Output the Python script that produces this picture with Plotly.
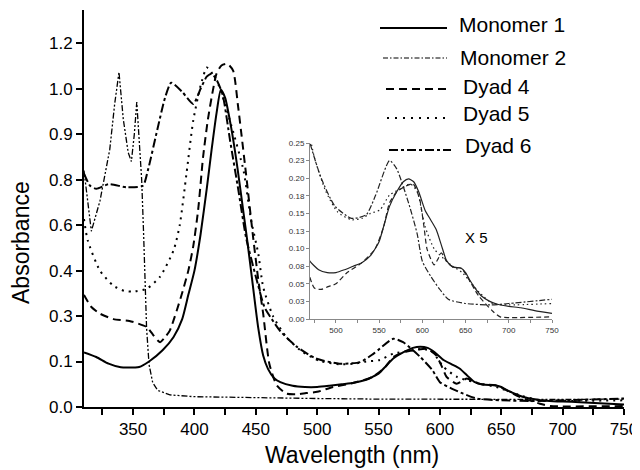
import plotly.graph_objects as go

# ---- data (wavelength nm / absorbance) ----
m1_wl = [310, 320, 330, 340, 345, 355, 363, 374, 383, 390, 395, 400, 405, 410, 414, 418, 421.5,
         425, 430, 435, 440, 443, 447, 452, 456, 460, 465, 470, 480, 490, 500, 510, 520, 530,
         540, 545, 550, 556, 562, 570, 578, 584, 590, 596, 603, 610, 616, 622, 628, 635, 645,
         650, 655, 662, 668, 678, 687, 700, 714, 730, 750]
m1_abs = [0.18, 0.165, 0.143, 0.131, 0.130, 0.132, 0.15, 0.187, 0.231, 0.29, 0.37, 0.45, 0.57,
          0.72, 0.85, 0.97, 1.047, 1.02, 0.92, 0.79, 0.64, 0.55, 0.42, 0.26, 0.17, 0.125, 0.095,
          0.082, 0.07, 0.066, 0.066, 0.07, 0.075, 0.08, 0.09, 0.099, 0.11, 0.135, 0.16, 0.18,
          0.195, 0.199, 0.195, 0.18, 0.155, 0.14, 0.127, 0.105, 0.083, 0.074, 0.072, 0.066,
          0.055, 0.042, 0.033, 0.025, 0.021, 0.018, 0.016, 0.012, 0.008]

m2_wl = [310, 316, 323, 331, 335, 338.5, 342, 346, 348.6, 351, 353, 355, 357, 358.5, 361, 363,
         366, 370, 380, 400, 450, 500, 550, 600, 650, 700, 750]
m2_abs = [0.78, 0.58, 0.68, 0.85, 1.0, 1.105, 0.95, 0.84, 0.81, 0.90, 1.006, 0.88, 0.75, 0.58,
          0.26, 0.14, 0.08, 0.055, 0.04, 0.034, 0.03, 0.028, 0.026, 0.025, 0.025, 0.025, 0.026]

d4_wl = [310, 316, 323, 334, 347, 361, 366, 370, 372, 376, 380, 389, 395, 399, 403, 407, 411,
         415, 418, 422, 427, 431.5, 435.6, 442, 447.8, 452, 456, 461, 467, 475, 483, 491, 500,
         513, 529, 545, 555, 562, 570, 578, 589, 592, 597, 602, 605.5, 613.6, 618, 622, 628,
         635, 645, 652, 665, 681.5, 690, 700, 750]
d4_abs = [0.37, 0.33, 0.308, 0.29, 0.284, 0.264, 0.24, 0.22, 0.214, 0.23, 0.253, 0.363, 0.45,
          0.53, 0.65, 0.824, 0.95, 1.044, 1.1, 1.127, 1.132, 1.11, 0.99, 0.77, 0.56, 0.42, 0.308,
          0.143, 0.072, 0.044, 0.042, 0.046, 0.05, 0.066, 0.079, 0.099, 0.13, 0.165, 0.18, 0.187,
          0.192, 0.187, 0.17, 0.13, 0.099, 0.077, 0.085, 0.094, 0.082, 0.074, 0.072, 0.06,
          0.033, 0.011, 0.003, 0.002, 0.003]

d5_wl = [310, 313, 323, 334, 343, 350, 361, 372, 383, 388, 393.5, 399, 405, 410, 413, 417, 420,
         430, 440, 446, 452, 456, 464, 475, 488, 502, 518, 530, 540, 551, 562, 578, 586, 594,
         603, 614, 633, 646, 665, 681, 700, 750]
d5_abs = [0.62, 0.55, 0.45, 0.40, 0.383, 0.381, 0.39, 0.43, 0.517, 0.60, 0.77, 0.945, 1.06,
          1.12, 1.11, 1.08, 1.06, 0.93, 0.78, 0.62, 0.506, 0.396, 0.30, 0.23, 0.182, 0.152,
          0.141, 0.143, 0.15, 0.155, 0.176, 0.187, 0.192, 0.181, 0.132, 0.099, 0.077, 0.066,
          0.039, 0.022, 0.02, 0.022]

d6_wl = [310, 315, 320, 330, 345, 358, 362, 370, 376, 381, 390, 399, 405, 410, 414, 418, 423,
         429, 436, 442, 452, 457, 463, 470, 483, 499, 518, 535, 546, 562, 570, 584, 594, 600,
         610, 619, 630, 650, 680, 700, 750]
d6_abs = [0.77, 0.73, 0.72, 0.735, 0.725, 0.73, 0.78, 0.92, 1.02, 1.07, 1.04, 1.0, 1.05, 1.09,
          1.1, 1.08, 1.03, 0.88, 0.71, 0.56, 0.40, 0.33, 0.29, 0.25, 0.2, 0.16, 0.143, 0.148,
          0.176, 0.225, 0.214, 0.165, 0.121, 0.082, 0.06, 0.044, 0.028, 0.022, 0.02, 0.022, 0.028]

names = ["Monomer 1", "Monomer 2", "Dyad 4", "Dyad 5", "Dyad 6"]
series = [(m1_wl, m1_abs), (m2_wl, m2_abs), (d4_wl, d4_abs), (d5_wl, d5_abs), (d6_wl, d6_abs)]
in_inset = [True, False, True, True, True]

main_dash = ["solid", "6px,2px,2px,2px,2px,2px", "8px,5px", "2px,5px", "9px,3px,3px,3px"]
main_width = [2, 1.3, 2, 2, 2]
main_shape = ["spline", "linear", "spline", "spline", "spline"]
inset_dash = ["solid", "4px,2px,1px,2px,1px,2px", "5px,3px", "1.5px,3px", "6px,2px,2px,2px"]
inset_width = [1.2, 1.0, 1.2, 1.2, 1.2]
leg_dash = ["solid", "5px,2px,1.5px,2px", "8px,5px", "2px,6px", "9px,3px,3px,3px"]
leg_width = [2, 1.2, 2, 2, 2.2]

y_ticks = [0, 0.15, 0.3, 0.45, 0.6, 0.75, 0.9, 1.05, 1.2]
y_labels = ["0.0", "0.1", "0.3", "0.4", "0.6", "0.8", "0.9", "1.0", "1.2"]
x_ticks = list(range(325, 751, 25))
x_labels = [str(v) if v % 50 == 0 else "" for v in x_ticks]

in_y_ticks = [i * 0.025 for i in range(11)]
in_y_labels = ["0.00", "0.03", "0.05", "0.08", "0.10", "0.13", "0.15", "0.18", "0.20", "0.23", "0.25"]
in_x_ticks = list(range(475, 751, 25))
in_x_labels = [str(v) if v % 50 == 0 else "" for v in in_x_ticks]

# the page puts the figure 8px in from the window corner, so size it to fit
OFF = 8
W, H = 640 - OFF, 470 - OFF
L, R, T, B = 84 - OFF, 16, 10 - OFF, 63


def px(x, y):
    # screen pixel (x, y) -> paper coords
    x, y = x - OFF, y - OFF
    return (x - L) / (W - L - R), (H - B - y) / (H - T - B)


fig = go.Figure()

for i, (wl, ab) in enumerate(series):
    fig.add_trace(go.Scatter(
        x=wl, y=ab, mode="lines", name=names[i], showlegend=False,
        line=dict(color="black", width=main_width[i], dash=main_dash[i],
                  shape=main_shape[i], smoothing=0.6),
    ))

for i, (wl, ab) in enumerate(series):
    if not in_inset[i]:
        continue
    fig.add_trace(go.Scatter(
        x=wl, y=ab, mode="lines", name=names[i], showlegend=False,
        xaxis="x2", yaxis="y2",
        line=dict(color="#222", width=inset_width[i], dash=inset_dash[i],
                  shape="spline", smoothing=0.6),
    ))

ix0, iy0 = px(310, 319)
ix1, iy1 = px(552, 143)

fig.update_layout(
    width=W, height=H,
    margin=dict(l=L, r=R, t=T, b=B, autoexpand=False),
    paper_bgcolor="white", plot_bgcolor="white",
    font=dict(family="Liberation Sans, Arial", color="black"),
    xaxis=dict(
        range=[310, 750], domain=[0, 1], showgrid=False, zeroline=False, automargin=False,
        showline=True, linecolor="black", linewidth=2,
        ticks="outside", ticklen=6, tickwidth=1.5, tickcolor="black",
        tickvals=x_ticks, ticktext=x_labels, tickfont=dict(size=17),
    ),
    yaxis=dict(
        range=[0, 1.31], domain=[0, 1], showgrid=False, zeroline=False, automargin=False,
        showline=True, linecolor="black", linewidth=2,
        ticks="outside", ticklen=6, tickwidth=1.5, tickcolor="black",
        tickvals=y_ticks, ticktext=y_labels, tickfont=dict(size=17),
    ),
    xaxis2=dict(
        range=[470, 750], domain=[ix0, ix1], anchor="y2", showgrid=False, zeroline=False,
        showline=True, linecolor="#888", linewidth=1, automargin=False,
        ticks="outside", ticklen=3, tickwidth=1, tickcolor="#888",
        tickvals=in_x_ticks, ticktext=in_x_labels, tickfont=dict(size=8, color="#333"),
    ),
    yaxis2=dict(
        range=[0, 0.25], domain=[iy0, iy1], anchor="x2", showgrid=False, zeroline=False,
        showline=True, linecolor="#888", linewidth=1, automargin=False,
        ticks="outside", ticklen=3, tickwidth=1, tickcolor="#888",
        tickvals=in_y_ticks, ticktext=in_y_labels, tickfont=dict(size=8, color="#333"),
    ),
)

# axis titles
tx, ty = px(352, 455)
fig.add_annotation(text="Wavelength (nm)", xref="paper", yref="paper", x=tx, y=ty,
                   xanchor="center", yanchor="middle", showarrow=False, font=dict(size=23))
tx, ty = px(21, 243)
fig.add_annotation(text="Absorbance", xref="paper", yref="paper", x=tx, y=ty, textangle=-90,
                   xanchor="center", yanchor="middle", showarrow=False, font=dict(size=23))

# hand-drawn legend like the original
leg_lines = [(380, 447, 28), (383, 447, 58), (386, 450, 89), (387, 448, 118), (389, 451, 150)]
leg_text = [(457, 25), (458, 57), (461, 86), (461, 113), (463, 146)]
for i, name in enumerate(names):
    x0, x1, yy = leg_lines[i]
    a0, b0 = px(x0, yy)
    a1, _ = px(x1, yy)
    fig.add_shape(type="line", xref="paper", yref="paper", x0=a0, x1=a1, y0=b0, y1=b0,
                  line=dict(color="black", width=leg_width[i], dash=leg_dash[i]))
    tx, ty = px(*leg_text[i])
    fig.add_annotation(text=name, xref="paper", yref="paper", x=tx, y=ty,
                       xanchor="left", yanchor="middle", showarrow=False,
                       font=dict(size=21, color="black"))

tx, ty = px(463, 237)
fig.add_annotation(text="X 5", xref="paper", yref="paper", x=tx, y=ty,
                   xanchor="left", yanchor="middle", showarrow=False,
                   font=dict(size=15, color="black"))

fig.write_html("out.html")
